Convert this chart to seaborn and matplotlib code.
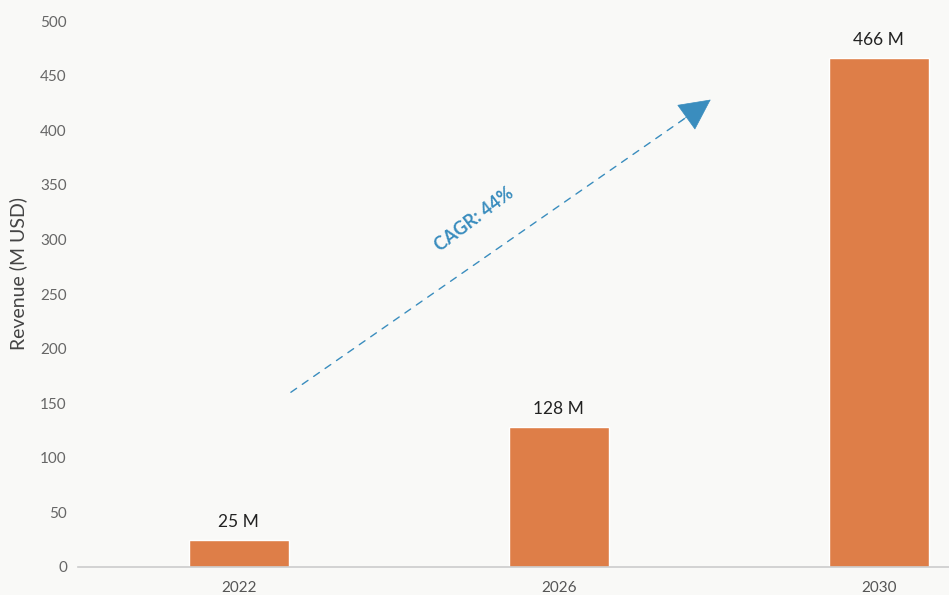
import matplotlib
matplotlib.use("Agg")
import matplotlib.pyplot as plt
import seaborn as sns
import pandas as pd

years = ["2022", "2026", "2030"]
revenue = [25, 128, 466]
bar_labels = ["25 M", "128 M", "466 M"]
y_ticks = [0, 50, 100, 150, 200, 250, 300, 350, 400, 450, 500]
cagr_text = "CAGR: 44%"

sns.set_theme(style="white")
plt.rcParams['font.family'] = ['Lato', 'DejaVu Sans']

bg = "#F9F9F7"
bar_color = "#DE7E48"
blue = "#3A8DBE"

fig = plt.figure(figsize=(9.49, 5.95), dpi=100, facecolor=bg)
ax = fig.add_axes([78/949, 28/595, (949-78)/949, 546/595])
ax.set_facecolor(bg)

df = pd.DataFrame({"year": years, "revenue": revenue})
sns.barplot(data=df, x="year", y="revenue", color=bar_color, width=0.3125,
            saturation=1, ax=ax)

for p, lab in zip(ax.patches, bar_labels):
    ax.text(p.get_x() + p.get_width()/2, p.get_height() + 9, lab,
            ha="center", va="bottom", fontsize=12.5, color="#222222")

ax.set_xlim(-0.503, 2.22)
ax.set_ylim(0, 500)
ax.set_yticks(y_ticks)
ax.set_yticklabels([str(t) for t in y_ticks])
ax.tick_params(axis="y", length=0, pad=8, labelsize=11, labelcolor="#666666")
ax.tick_params(axis="x", length=0, pad=10, labelsize=11, labelcolor="#555555")
for s in ["top", "right", "left"]:
    ax.spines[s].set_visible(False)
ax.spines["bottom"].set_color("#CCCCCC")
ax.spines["bottom"].set_linewidth(1.2)
ax.set_xlabel("")
ax.set_ylabel("Revenue (M USD)", fontsize=14, color="#444444")
ax.yaxis.set_label_coords(-0.058, 0.537)

# CAGR arrow: dashed shaft + solid head
start = (0.1625, 160)
tip = (1.475, 428)
ax.annotate("", xy=(1.40, 412), xytext=start,
            arrowprops=dict(arrowstyle="-", linestyle=(0, (5, 5)),
                            color=blue, lw=1.0, shrinkA=0, shrinkB=0))
ax.annotate("", xy=tip, xytext=(1.38, 408),
            arrowprops=dict(arrowstyle="-|>,head_length=1.5,head_width=0.75",
                            mutation_scale=14, color=blue, lw=0.5,
                            shrinkA=0, shrinkB=0))
ax.text(0.735, 318, cagr_text, rotation=37, rotation_mode="anchor",
        ha="center", va="center", fontsize=13, color=blue, fontweight="bold")

fig.savefig("out.png", dpi=100, facecolor=bg)
